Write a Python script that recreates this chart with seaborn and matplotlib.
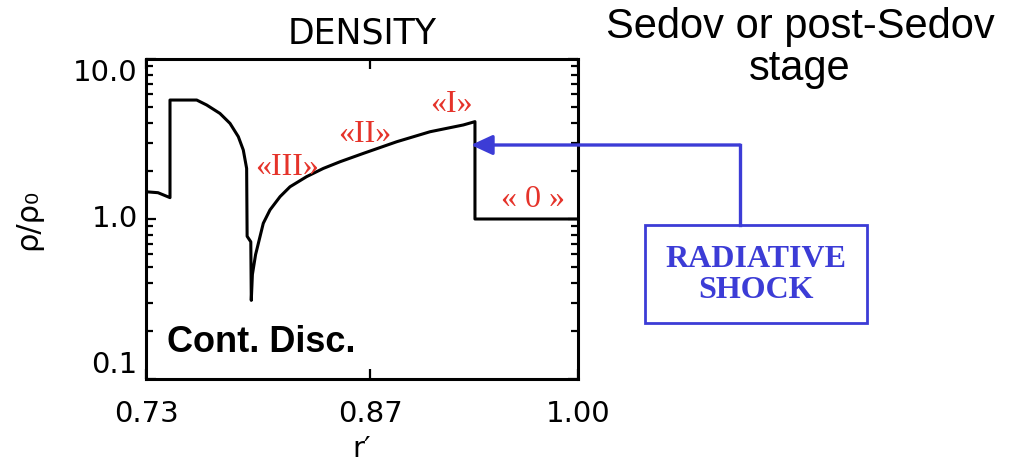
import matplotlib
matplotlib.use("Agg")
import matplotlib.pyplot as plt
import matplotlib.patches as patches
from matplotlib.lines import Line2D
from matplotlib.ticker import LogLocator, NullFormatter, NullLocator
import seaborn as sns
import pandas as pd

# ---- data ----
radius = [0.7300, 0.7375, 0.7450, 0.7450, 0.7617, 0.7679, 0.7762, 0.7825,
          0.7877, 0.7908, 0.7929, 0.7932, 0.7955, 0.7958, 0.7965, 0.7985,
          0.7992, 0.8033, 0.8075, 0.8138, 0.8200, 0.8304, 0.8408, 0.8513,
          0.8658, 0.8867, 0.9075, 0.9283, 0.9356, 0.9356, 1.0000]
density = [1.48, 1.46, 1.36, 5.54, 5.54, 5.16, 4.57, 3.96,
           3.27, 2.70, 2.07, 0.78, 0.72, 0.31, 0.45, 0.60,
           0.64, 0.94, 1.14, 1.38, 1.59, 1.84, 2.07, 2.28,
           2.57, 3.04, 3.51, 3.87, 4.06, 1.00, 1.00]

x_ticks = [0.73, 0.87, 1.00]
x_ticklabels = ["0.73", "0.87", "1.00"]
y_ticks = [0.1, 1.0, 10.0]
y_ticklabels = ["0.1", "1.0", "10.0"]

region_labels = ["«III»", "«II»", "«I»", "« 0 »"]
region_x = [0.8179, 0.8669, 0.9206, 0.9719]
region_y = [1.88, 3.04, 4.69, 1.19]

title = "DENSITY"
side_title = "Sedov or post-Sedov\nstage"
shock_label = "RADIATIVE\nSHOCK"
cd_label = "Cont. Disc."

# ---- styling ----
sns.set_theme(style="ticks")
plt.rcParams["font.family"] = ["DejaVu Sans"]

W, H = 1015, 461
fig = plt.figure(figsize=(W / 100, H / 100), dpi=100)
fig.patch.set_facecolor("white")


def fx(px):
    return px / W


def fy(py):
    return 1 - py / H


ax_l, ax_r, ax_t, ax_b = 146, 578, 59, 379
ax = fig.add_axes([fx(ax_l), fy(ax_b), fx(ax_r) - fx(ax_l), (ax_b - ax_t) / H])
ax.set_facecolor("white")

df = pd.DataFrame({"r": radius, "rho": density})
ax.set_yscale("log")
sns.lineplot(data=df, x="r", y="rho", sort=False, estimator=None,
             color="black", linewidth=2.2, ax=ax)

ax.set_xlim(0.73, 1.00)
ax.set_ylim(0.1, 10.0)

ax.set_xticks(x_ticks)
ax.set_xticklabels(x_ticklabels)
ax.xaxis.set_minor_locator(NullLocator())
ax.set_yticks(y_ticks)
ax.set_yticklabels(y_ticklabels)
ax.yaxis.set_minor_locator(LogLocator(base=10, subs=[2, 3, 4, 5, 6, 7, 8, 9]))
ax.yaxis.set_minor_formatter(NullFormatter())

for s in ax.spines.values():
    s.set_linewidth(2.2)
    s.set_color("black")
    s.set_visible(True)

ax.tick_params(which="both", direction="in", top=True, right=True,
               color="black", width=1.6)
ax.tick_params(which="major", length=7)
ax.tick_params(which="minor", length=5)
ax.tick_params(axis="x", which="major", pad=15, labelsize=21, labelcolor="black")
ax.tick_params(axis="y", which="major", pad=6, labelsize=21, labelcolor="black")

ylabs = ax.get_yticklabels()
ylabs[0].set_va("bottom")
ylabs[1].set_va("center")
ylabs[2].set_va("top")

ax.set_xlabel("r′", fontsize=21, color="black")
ax.xaxis.set_label_coords(0.5, -0.175)
ax.set_ylabel("ρ/ρ₀", fontsize=22, color="black")
ax.yaxis.set_label_coords(-0.24, 0.5)

ax.set_title(title, fontsize=25, color="black", pad=11)

# region labels
for lab, xv, yv in zip(region_labels, region_x, region_y):
    ax.text(xv, yv, lab, color="#e5332a", fontsize=23,
            family="Liberation Serif", ha="center", va="baseline")

ax.text(0.7431, 0.1475, cd_label, fontsize=26, fontweight="bold",
        family="Liberation Sans", color="black", ha="left", va="baseline")

# right-hand title
fig.text(fx(800), fy(7), side_title, fontsize=30, family="Liberation Sans",
         color="black", ha="center", va="top", linespacing=1.05)

# radiative shock box + arrow
blue = "#3c3cd6"
box = patches.Rectangle((fx(645), fy(323)), fx(867) - fx(645), (323 - 225) / H,
                        transform=fig.transFigure, fill=False,
                        edgecolor=blue, linewidth=2.0)
fig.add_artist(box)
fig.text(fx(756), fy(275), shock_label, fontsize=23, fontweight="bold",
         family="Liberation Serif", color=blue, ha="center", va="center",
         linespacing=1.08)

fig.add_artist(Line2D([fx(740), fx(740)], [fy(225), fy(145)],
                      transform=fig.transFigure, color=blue, linewidth=2.4,
                      solid_capstyle="projecting"))
fig.add_artist(patches.FancyArrowPatch(
    (fx(740), fy(145)), (fx(471), fy(145)), transform=fig.transFigure,
    arrowstyle="-|>,head_length=13,head_width=6", color=blue, linewidth=2.4,
    shrinkA=0, shrinkB=0, mutation_scale=1))

fig.savefig("out.png", dpi=100, facecolor="white")
